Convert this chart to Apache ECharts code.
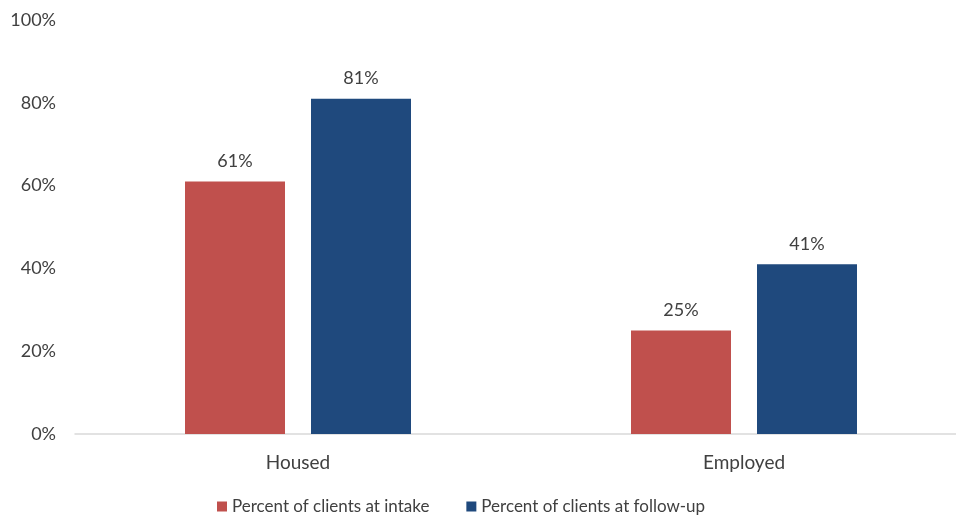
<!DOCTYPE html>
<html><head><meta charset="utf-8">
<script src="https://cdn.jsdelivr.net/npm/echarts@6/dist/echarts.min.js"></script>
<style>html,body{margin:0;padding:0;background:#fff}#c{width:956px;height:521px}</style>
</head><body><div id="c"></div>
<script>
const categories = ['Housed', 'Employed'];
const seriesNames = ['Percent of clients at intake', 'Percent of clients at follow-up'];
const intake = [61, 25];
const followUp = [81, 41];
const yTicks = [0, 20, 40, 60, 80, 100];

const font = 'Lato, "Open Sans", sans-serif';
const txt = '#404040';
const chart = echarts.init(document.getElementById('c'));
chart.setOption({
  animation: false,
  textStyle: { fontFamily: font },
  grid: { left: 75, top: 20, width: 892, height: 414, outerBoundsMode: 'none', containLabel: false },
  legend: {
    top: 498, left: 217, itemWidth: 10, itemHeight: 10, itemGap: 37,
    icon: 'rect', padding: 0,
    textStyle: { fontFamily: font, fontSize: 17, color: txt },
    data: seriesNames
  },
  xAxis: {
    type: 'category', data: categories,
    axisLine: { lineStyle: { color: '#d9d9d9', width: 1.5 } },
    axisTick: { show: false },
    axisLabel: { fontFamily: font, fontSize: 19, color: txt, margin: 19 }
  },
  yAxis: {
    type: 'value', min: yTicks[0], max: yTicks[yTicks.length - 1], interval: 20,
    splitLine: { show: false },
    axisLine: { show: false }, axisTick: { show: false },
    axisLabel: { fontFamily: font, fontSize: 18, color: txt, margin: 19, formatter: '{value}%' }
  },
  series: [
    { name: seriesNames[0], type: 'bar', data: intake, barWidth: 100, barGap: '26%',
      itemStyle: { color: '#C0504D' },
      label: { show: true, position: 'top', distance: 11, formatter: '{c}%', fontFamily: font, fontSize: 18, color: txt } },
    { name: seriesNames[1], type: 'bar', data: followUp, barWidth: 100,
      itemStyle: { color: '#1F497D' },
      label: { show: true, position: 'top', distance: 11, formatter: '{c}%', fontFamily: font, fontSize: 18, color: txt } }
  ]
});
</script></body></html>
